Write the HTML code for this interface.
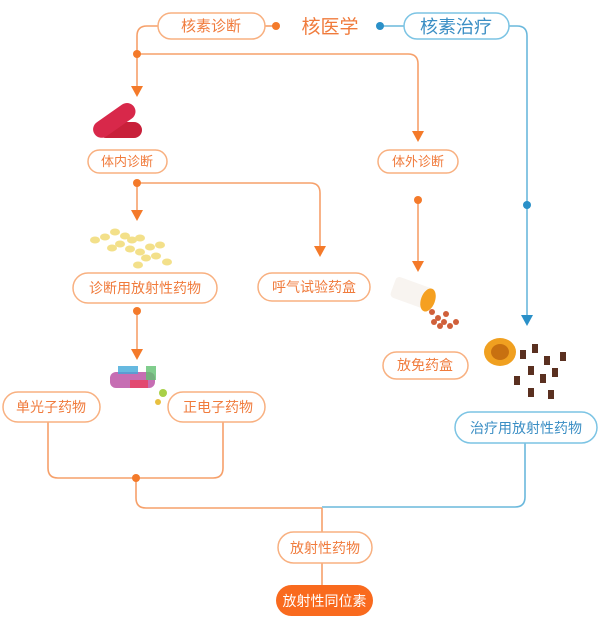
<!DOCTYPE html>
<html><head><meta charset="utf-8">
<style>
html,body{margin:0;padding:0;background:#fff;}
svg{display:block;}
text{font-family:"Liberation Sans","Noto Sans CJK SC",sans-serif;}
</style></head>
<body>
<svg width="600" height="624" viewBox="0 0 600 624" xmlns="http://www.w3.org/2000/svg">
<defs>
<marker id="ao" viewBox="0 0 10 10" refX="5" refY="9" markerWidth="10" markerHeight="10" orient="auto-start-reverse" markerUnits="userSpaceOnUse">
</marker>
</defs>
<g fill="none" stroke="#f6a06a" stroke-width="1.6">
 <!-- top left bracket -->
 <path d="M158 26 H147 Q137 26 137 36 V90"/>
 <path d="M137 54 H408 Q418 54 418 64 V133"/>
 <path d="M265 26 H276"/>
 <!-- from 体内 -->
 <path d="M137 183 V214"/>
 <path d="M137 183 H310 Q320 183 320 193 V249"/>
 <path d="M418 200 V264"/>
 <path d="M137 311 V352"/>
 <!-- bottom brackets -->
 <path d="M48 422 V468 Q48 478 58 478 H213 Q223 478 223 468 V422"/>
 <path d="M136 478 V498 Q136 508 146 508 H322"/>
 <path d="M322 508 V532"/>
 <path d="M322 563 V585"/>
</g>
<g fill="none" stroke="#6ab8dc" stroke-width="1.6">
 <path d="M380 26 H404"/>
 <path d="M509 26 H517 Q527 26 527 36 V318"/>
 <path d="M525 443 V497 Q525 507 515 507 H322"/>
</g>
<!-- arrowheads orange -->
<g fill="#f47a2a">
 <path d="M131 86 L143 86 L137 97 Z"/>
 <path d="M412 131 L424 131 L418 142 Z"/>
 <path d="M131 210 L143 210 L137 221 Z"/>
 <path d="M314 246 L326 246 L320 257 Z"/>
 <path d="M412 261 L424 261 L418 272 Z"/>
 <path d="M131 349 L143 349 L137 360 Z"/>
 <circle cx="276" cy="26" r="4"/>
 <circle cx="137" cy="54" r="4"/>
 <circle cx="137" cy="183" r="4"/>
 <circle cx="418" cy="200" r="4"/>
 <circle cx="137" cy="311" r="4"/>
 <circle cx="136" cy="478" r="4"/>
</g>
<g fill="#2a90c8">
 <circle cx="380" cy="26" r="4"/>
 <circle cx="527" cy="205" r="4"/>
 <path d="M521 315 L533 315 L527 326 Z"/>
</g>
<!-- images approximations -->
<g>
 <rect x="98" y="122" width="44" height="16" rx="8" fill="#c8203a"/>
 <rect x="90" y="112" width="48" height="17" rx="8.5" fill="#d8284a" transform="rotate(-35 114 120)"/>
</g>
<g fill="#f3e08a">
 <ellipse cx="95" cy="240" rx="5" ry="3.5"/><ellipse cx="105" cy="237" rx="5" ry="3.5"/>
 <ellipse cx="115" cy="232" rx="5" ry="3.5"/><ellipse cx="125" cy="236" rx="5" ry="3.5"/>
 <ellipse cx="132" cy="240" rx="5" ry="3.5"/><ellipse cx="140" cy="238" rx="5" ry="3.5"/>
 <ellipse cx="120" cy="244" rx="5" ry="3.5"/><ellipse cx="130" cy="249" rx="5" ry="3.5"/>
 <ellipse cx="140" cy="252" rx="5" ry="3.5"/><ellipse cx="150" cy="247" rx="5" ry="3.5"/>
 <ellipse cx="146" cy="258" rx="5" ry="3.5"/><ellipse cx="156" cy="256" rx="5" ry="3.5"/>
 <ellipse cx="167" cy="262" rx="5" ry="3.5"/><ellipse cx="112" cy="248" rx="5" ry="3.5"/>
 <ellipse cx="138" cy="265" rx="5" ry="3.5"/><ellipse cx="160" cy="245" rx="5" ry="3.5"/>
</g>
<g>
 <rect x="110" y="372" width="45" height="16" rx="6" fill="#b84aa0" opacity="0.8"/>
 <rect x="118" y="366" width="20" height="8" fill="#40a8d8" opacity="0.8"/>
 <rect x="130" y="380" width="18" height="8" fill="#e84060" opacity="0.8"/>
 <rect x="146" y="366" width="10" height="14" fill="#60c070" opacity="0.8"/>
 <circle cx="163" cy="393" r="4" fill="#a8d048"/>
 <circle cx="158" cy="402" r="3" fill="#e8c040"/>
</g>
<g>
 <rect x="392" y="282" width="40" height="22" rx="4" fill="#f8f4f0" transform="rotate(20 412 293)"/>
 <ellipse cx="428" cy="300" rx="7" ry="12" fill="#f5a020" transform="rotate(20 428 300)"/>
 <g fill="#d0603a">
  <circle cx="432" cy="312" r="3"/><circle cx="438" cy="318" r="3"/><circle cx="444" cy="322" r="3"/>
  <circle cx="450" cy="326" r="3"/><circle cx="440" cy="326" r="3"/><circle cx="456" cy="322" r="3"/>
  <circle cx="446" cy="314" r="3"/><circle cx="434" cy="322" r="3"/>
 </g>
</g>
<g>
 <ellipse cx="500" cy="352" rx="16" ry="14" fill="#f0a020"/>
 <ellipse cx="500" cy="352" rx="9" ry="8" fill="#c87010"/>
 <g fill="#5a3020">
  <rect x="520" y="350" width="6" height="9"/><rect x="532" y="344" width="6" height="9"/>
  <rect x="544" y="356" width="6" height="9"/><rect x="528" y="366" width="6" height="9"/>
  <rect x="540" y="374" width="6" height="9"/><rect x="552" y="368" width="6" height="9"/>
  <rect x="514" y="376" width="6" height="9"/><rect x="528" y="388" width="6" height="9"/>
  <rect x="560" y="352" width="6" height="9"/><rect x="548" y="390" width="6" height="9"/>
 </g>
</g>
<!-- boxes -->
<g fill="#fff" stroke="#f8b080" stroke-width="1.5">
 <rect x="158" y="13" width="107" height="26" rx="13"/>
 <rect x="88" y="150" width="79" height="23" rx="11.5"/>
 <rect x="378" y="150" width="80" height="23" rx="11.5"/>
 <rect x="73" y="273" width="144" height="30" rx="15"/>
 <rect x="258" y="273" width="112" height="28" rx="14"/>
 <rect x="383" y="352" width="85" height="27" rx="13.5"/>
 <rect x="3" y="392" width="97" height="30" rx="15"/>
 <rect x="168" y="392" width="97" height="30" rx="15"/>
 <rect x="278" y="532" width="94" height="31" rx="15.5"/>
</g>
<g fill="#fff" stroke="#7cc4e4" stroke-width="1.5">
 <rect x="404" y="13" width="105" height="26" rx="13"/>
 <rect x="455" y="412" width="142" height="31" rx="15.5"/>
</g>
<rect x="276" y="585" width="97" height="31" rx="15.5" fill="#f96a1e"/>
<!-- text -->
<g fill="#f07b3c" font-size="14" text-anchor="middle">
 <text x="211" y="31" font-size="15">核素诊断</text>
 <text x="330" y="33" font-size="19">核医学</text>
 <text x="127" y="166" font-size="13">体内诊断</text>
 <text x="418" y="166" font-size="13">体外诊断</text>
 <text x="145" y="293">诊断用放射性药物</text>
 <text x="314" y="292">呼气试验药盒</text>
 <text x="425" y="370">放免药盒</text>
 <text x="51" y="412">单光子药物</text>
 <text x="218" y="412">正电子药物</text>
 <text x="325" y="553">放射性药物</text>
</g>
<g fill="#3a8ec4" text-anchor="middle">
 <text x="456" y="33" font-size="18">核素治疗</text>
 <text x="526" y="433" font-size="14">治疗用放射性药物</text>
</g>
<text x="324.5" y="606" fill="#fff" font-size="14" text-anchor="middle">放射性同位素</text>
</svg>
</body></html>
